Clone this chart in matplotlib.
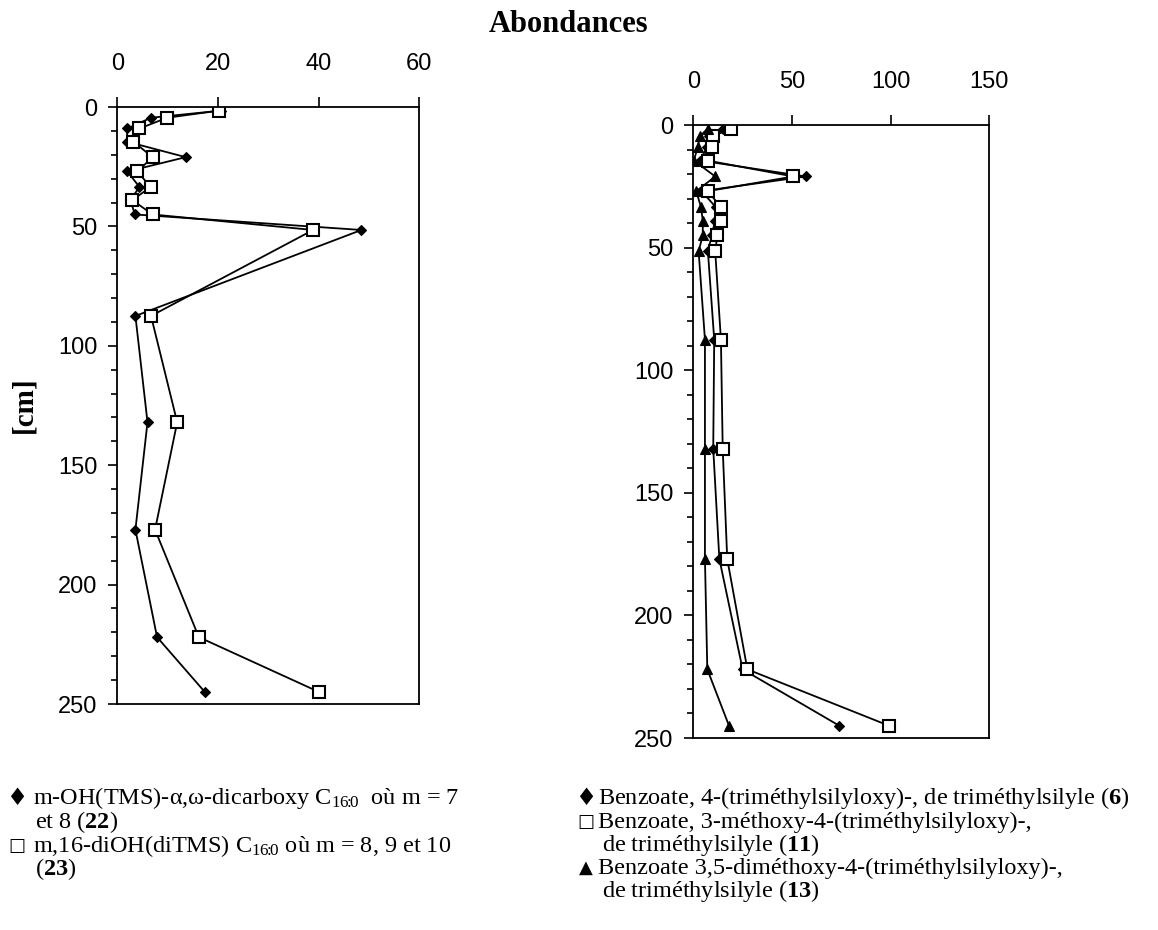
import matplotlib
matplotlib.use('Agg')
import matplotlib.pyplot as plt
from matplotlib.ticker import MultipleLocator

plt.rcParams['font.family'] = ['Liberation Sans', 'DejaVu Sans']
plt.rcParams['mathtext.fontset'] = 'custom'
plt.rcParams['mathtext.rm'] = 'Liberation Serif'
plt.rcParams['mathtext.it'] = 'Liberation Serif:italic'
plt.rcParams['mathtext.bf'] = 'Liberation Serif:bold'

# profondeurs (cm)
depth = [1.5, 4.5, 9, 14.5, 21, 27, 33.5, 39, 45, 51.5, 87.5, 132, 177, 222, 245]

# panneau gauche
acide_22 = [20.7, 6.7, 2.0, 1.9, 13.6, 2.0, 4.4, 2.6, 3.5, 48.5, 3.6, 6.0, 3.6, 7.9, 17.4]
acide_23 = [20.3, 9.9, 4.4, 3.2, 7.0, 4.0, 6.6, 3.0, 7.0, 38.9, 6.7, 11.9, 7.5, 16.2, 40.1]

# panneau droit
benz_6 = [15.0, 8.0, 6.8, 3.6, 56.9, 4.2, 11.4, 11.0, 9.4, 7.4, 10.6, 10.1, 13.2, 25.0, 74.0]
benz_11 = [19.1, 10.0, 9.3, 7.2, 50.7, 7.2, 14.2, 14.0, 12.2, 11.1, 14.0, 14.9, 17.2, 27.4, 99.2]
benz_13 = [7.3, 3.4, 2.2, 0.3, 11.1, 1.5, 3.9, 4.8, 4.8, 2.7, 5.9, 5.9, 5.9, 7.1, 18.1]

W, H = 1158, 930
fig = plt.figure(figsize=(W / 100, H / 100), dpi=100)

ax1 = fig.add_axes([117.3 / W, 1 - 704 / H, 302 / W, 597 / H])
ax2 = fig.add_axes([693.3 / W, 1 - 738 / H, 296 / W, 613 / H])

line_kw = dict(color='black', lw=1.3)
diam = dict(marker='D', ms=5.5, mfc='black', mec='black', mew=0.8)
sq = dict(marker='s', ms=8.5, mfc='white', mec='black', mew=1.5)
tri = dict(marker='^', ms=7.5, mfc='black', mec='black', mew=0.8)

ax1.plot(acide_22, depth, **line_kw, **diam)
ax1.plot(acide_23, depth, **line_kw, **sq)

ax2.plot(benz_6, depth, **line_kw, **diam)
ax2.plot(benz_11, depth, **line_kw, **sq)
ax2.plot(benz_13, depth, **line_kw, **tri)

for ax, xmax, xstep in [(ax1, 60, 20), (ax2, 150, 50)]:
    ax.set_xlim(0, xmax)
    ax.set_ylim(250, 0)
    ax.xaxis.set_major_locator(MultipleLocator(xstep))
    ax.yaxis.set_major_locator(MultipleLocator(50))
    ax.yaxis.set_minor_locator(MultipleLocator(10))
    ax.xaxis.tick_top()
    ax.tick_params(axis='x', which='major', direction='out', length=7, width=1.2,
                   labelsize=17, pad=16)
    ax.tick_params(axis='y', which='major', direction='out', length=6.5, width=1.2,
                   labelsize=17, pad=8, right=False)
    ax.tick_params(axis='y', which='minor', direction='out', length=4.3, width=1.2,
                   right=False)
    for s in ax.spines.values():
        s.set_linewidth(1.3)

fig.text(569 / W, 1 - 24 / H, 'Abondances', ha='center', va='center',
         fontsize=22, fontweight='bold', family='Liberation Serif')
fig.text(24 / W, 1 - 405 / H, '[cm]', ha='center', va='center', rotation=90,
         fontsize=21, fontweight='bold', family='Liberation Serif')

# légendes (texte)
txt = dict(fontsize=17.5, family='Liberation Serif', va='center', ha='left')
sub = '$_{\\mathrm{16}\\!\\!:\\!\\!\\mathrm{0}}$'

left_lines = [
    (33, 798, 'm-OH(TMS)-\u03b1,\u03c9-dicarboxy C' + sub + '  où m = 7'),
    (35, 822, 'et 8 ($\\mathbf{22}$)'),
    (33, 846, 'm,16-diOH(diTMS) C' + sub + ' où m = 8, 9 et 10'),
    (35, 869, '($\\mathbf{23}$)'),
]
right_lines = [
    (598, 798, 'Benzoate, 4-(triméthylsilyloxy)-, de triméthylsilyle ($\\mathbf{6}$)'),
    (598, 822, 'Benzoate, 3-méthoxy-4-(triméthylsilyloxy)-,'),
    (602, 845, 'de triméthylsilyle ($\\mathbf{11}$)'),
    (598, 868, 'Benzoate 3,5-diméthoxy-4-(triméthylsilyloxy)-,'),
    (602, 891, 'de triméthylsilyle ($\\mathbf{13}$)'),
]
for x, y, s in left_lines + right_lines:
    fig.text(x / W, 1 - y / H, s, **txt)

symbols = [(17, 798, '\u2666', 17), (17, 846, '\u25a1', 13),
           (586, 798, '\u2666', 17), (586, 822, '\u25a1', 13), (586, 868, '\u25b2', 13)]
for x, y, s, fs in symbols:
    fig.text(x / W, 1 - y / H, s, fontsize=fs, family='DejaVu Sans',
             va='center', ha='center')

fig.savefig('out.png', dpi=100)
